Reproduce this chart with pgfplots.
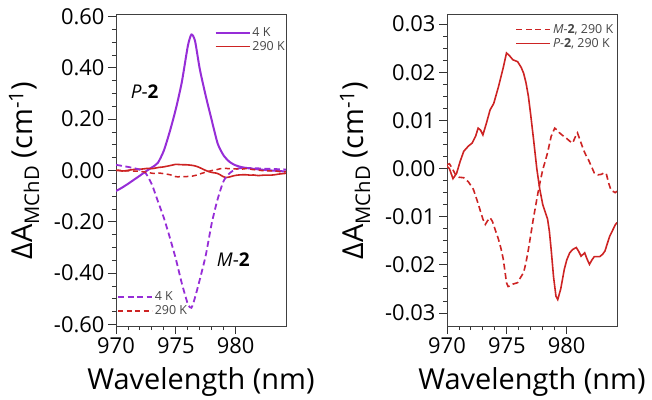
\documentclass[border=0pt]{standalone}
\usepackage{fontspec}
\setmainfont{Open Sans}
\usepackage{pgfplots}
\pgfplotsset{compat=1.18}
\definecolor{cpurple}{RGB}{150,45,215}
\definecolor{cred}{RGB}{205,35,35}
\definecolor{legtext}{RGB}{70,70,70}

\pgfplotstableread{
x y
970.0 0.0005
970.2 0.0000
970.5 -0.0021
970.8 -0.0010
971.1 0.0015
971.4 0.0036
971.8 0.0047
972.1 0.0053
972.4 0.0068
972.6 0.0084
972.8 0.0080
973.0 0.0070
973.3 0.0095
973.6 0.0122
973.9 0.0135
974.3 0.0170
974.7 0.0210
974.97 0.0240
975.2 0.0235
975.5 0.0226
975.9 0.0222
976.2 0.0210
976.4 0.0198
976.6 0.0178
976.8 0.0150
977.0 0.0110
977.2 0.0067
977.5 0.0000
977.75 -0.0043
978.0 -0.0075
978.2 -0.0090
978.4 -0.0105
978.55 -0.0130
978.7 -0.0168
978.9 -0.0225
979.1 -0.0265
979.25 -0.0272
979.5 -0.0250
979.8 -0.0209
980.0 -0.0190
980.25 -0.0175
980.5 -0.0168
980.8 -0.0164
981.0 -0.0172
981.2 -0.0182
981.5 -0.0175
981.7 -0.0188
981.9 -0.0199
982.1 -0.0190
982.3 -0.0183
982.75 -0.0183
983.0 -0.0178
983.2 -0.0171
983.4 -0.0155
983.6 -0.0140
983.8 -0.0130
984.05 -0.0117
984.2 -0.0112
}\Ptwo

\pgfplotstableread{
x y
970.0 0.0008
970.2 0.0010
970.4 0.0002
970.7 -0.0012
971.0 -0.0018
971.4 -0.0019
971.8 -0.0028
972.2 -0.0043
972.5 -0.0065
972.75 -0.0085
973.0 -0.0105
973.2 -0.0116
973.4 -0.0108
973.6 -0.0102
973.8 -0.0110
974.0 -0.0125
974.3 -0.0147
974.5 -0.0165
974.7 -0.0188
974.85 -0.0215
974.97 -0.0237
975.1 -0.0245
975.25 -0.0244
975.5 -0.0240
975.9 -0.0237
976.1 -0.0228
976.4 -0.0216
976.6 -0.0195
976.8 -0.0168
977.0 -0.0137
977.2 -0.0106
977.4 -0.0078
977.6 -0.0050
977.8 -0.0025
978.0 -0.0002
978.2 0.0015
978.4 0.0033
978.7 0.0067
979.0 0.0084
979.2 0.0080
979.4 0.0074
979.7 0.0068
979.97 0.0063
980.3 0.0056
980.5 0.0053
980.7 0.0065
980.9 0.0074
981.1 0.0060
981.4 0.0039
981.6 0.0028
981.8 0.0019
982.0 0.0008
982.3 -0.0009
982.6 -0.0013
982.9 -0.0012
983.1 -0.0009
983.3 -0.0010
983.5 -0.0030
983.7 -0.0045
984.05 -0.0050
984.2 -0.0047
}\Mtwo

\pgfplotstableread{
x y
970.0 -0.080
970.5 -0.067
971.0 -0.052
971.5 -0.036
972.0 -0.020
972.5 -0.003
973.0 0.012
973.5 0.030
974.0 0.078
974.5 0.153
975.0 0.240
975.5 0.345
976.0 0.485
976.3 0.530
976.6 0.505
977.0 0.395
977.5 0.290
978.0 0.195
978.5 0.104
979.0 0.058
979.5 0.033
980.0 0.020
980.5 0.013
981.0 0.009
982.0 0.004
983.0 0.000
984.2 -0.004
}\PfourK

\pgfplotstableread{
x y
970.0 0.022
970.5 0.018
971.0 0.014
971.5 0.009
972.0 0.003
972.5 -0.012
973.0 -0.055
973.5 -0.120
974.0 -0.185
974.5 -0.262
975.0 -0.345
975.5 -0.440
976.0 -0.520
976.3 -0.535
976.6 -0.495
977.0 -0.425
977.5 -0.330
978.0 -0.205
978.5 -0.110
979.0 -0.040
979.5 -0.010
980.0 0.005
980.5 0.010
981.0 0.010
982.0 0.008
983.0 0.006
984.2 0.004
}\MfourK

\pgfplotsset{
  myaxis/.style={
    scale only axis, width=170bp, height=311bp,
    xmin=970, xmax=984.2,
    xtick={970,975,980}, minor x tick num=4,
    tick align=outside, xtick pos=left, ytick pos=left,
    major tick length=8bp, minor tick length=4bp,
    axis line style={black!75, line width=1bp},
    every tick/.append style={black!80, line width=0.9bp},
    tick label style={font=\fontsize{22}{22}\selectfont},
    /pgf/number format/assume math mode=true,
    scaled y ticks=false,
    label style={font=\fontsize{29}{29}\selectfont},
    xlabel={Wavelength (nm)},
    ylabel={ΔA\textsubscript{MChD} (cm\textsuperscript{-1})},
    xlabel style={at={(axis description cs:0.5,-0.18)}, anchor=center},
    ylabel style={at={(axis description cs:-0.54,0.5)}, anchor=center},
    yticklabel style={/pgf/number format/fixed, /pgf/number format/fixed zerofill, /pgf/number format/precision=2},
    legend cell align=left,
    legend image code/.code={\draw[##1] (0bp,0bp) -- (34bp,0bp);},
    legend style={draw=none, fill=none, inner sep=1bp,
      font=\fontsize{12.5}{15}\selectfont, text=legtext,
      nodes={inner sep=1.8bp}},
  }
}

\begin{document}
\begin{tikzpicture}
\path[use as bounding box] (0,0) rectangle (652bp,400bp);

% left panel
\begin{axis}[myaxis, at={(116bp,74bp)}, anchor=south west,
  ymin=-0.606, ymax=0.606,
  ytick={-0.6,-0.4,-0.2,0,0.2,0.4,0.6}, minor y tick num=3,
  legend style={at={(axis description cs:1.01,0.97)}, anchor=north east}]
\addplot[cpurple, line width=2bp, smooth, tension=0.4] table {\PfourK};
\addlegendentry{4 K}
\addplot[cred, line width=1.6bp] table {\Ptwo};
\addlegendentry{290 K}
\node at (axis cs:972.4,0.306) {\fontsize{19}{19}\selectfont\textit{P}-\textbf{2}};
\node at (axis cs:979.8,-0.349) {\fontsize{19}{19}\selectfont\textit{M}-\textbf{2}};
\end{axis}

\begin{axis}[myaxis, at={(116bp,74bp)}, anchor=south west, hide axis,
  ymin=-0.606, ymax=0.606,
  legend style={at={(axis description cs:0.0,0.022)}, anchor=south west}]
\addplot[cpurple, line width=1.8bp, dash pattern=on 6bp off 3.5bp, smooth, tension=0.4] table {\MfourK};
\addlegendentry{4 K}
\addplot[cred, line width=1.5bp, dash pattern=on 5bp off 3.5bp] table {\Mtwo};
\addlegendentry{290 K}
\end{axis}

% right panel
\begin{axis}[myaxis, at={(447bp,74bp)}, anchor=south west,
  ymin=-0.0327, ymax=0.0319,
  ytick={-0.03,-0.02,-0.01,0,0.01,0.02,0.03}, minor y tick num=3,
  legend style={at={(axis description cs:0.995,0.98)}, anchor=north east}]
\addplot[cred, line width=1.6bp, dash pattern=on 6bp off 3.5bp] table {\Mtwo};
\addlegendentry{\textit{M}-\textbf{2}, 290 K}
\addplot[cred, line width=1.6bp] table {\Ptwo};
\addlegendentry{\textit{P}-\textbf{2}, 290 K}
\end{axis}
\end{tikzpicture}
\end{document}
